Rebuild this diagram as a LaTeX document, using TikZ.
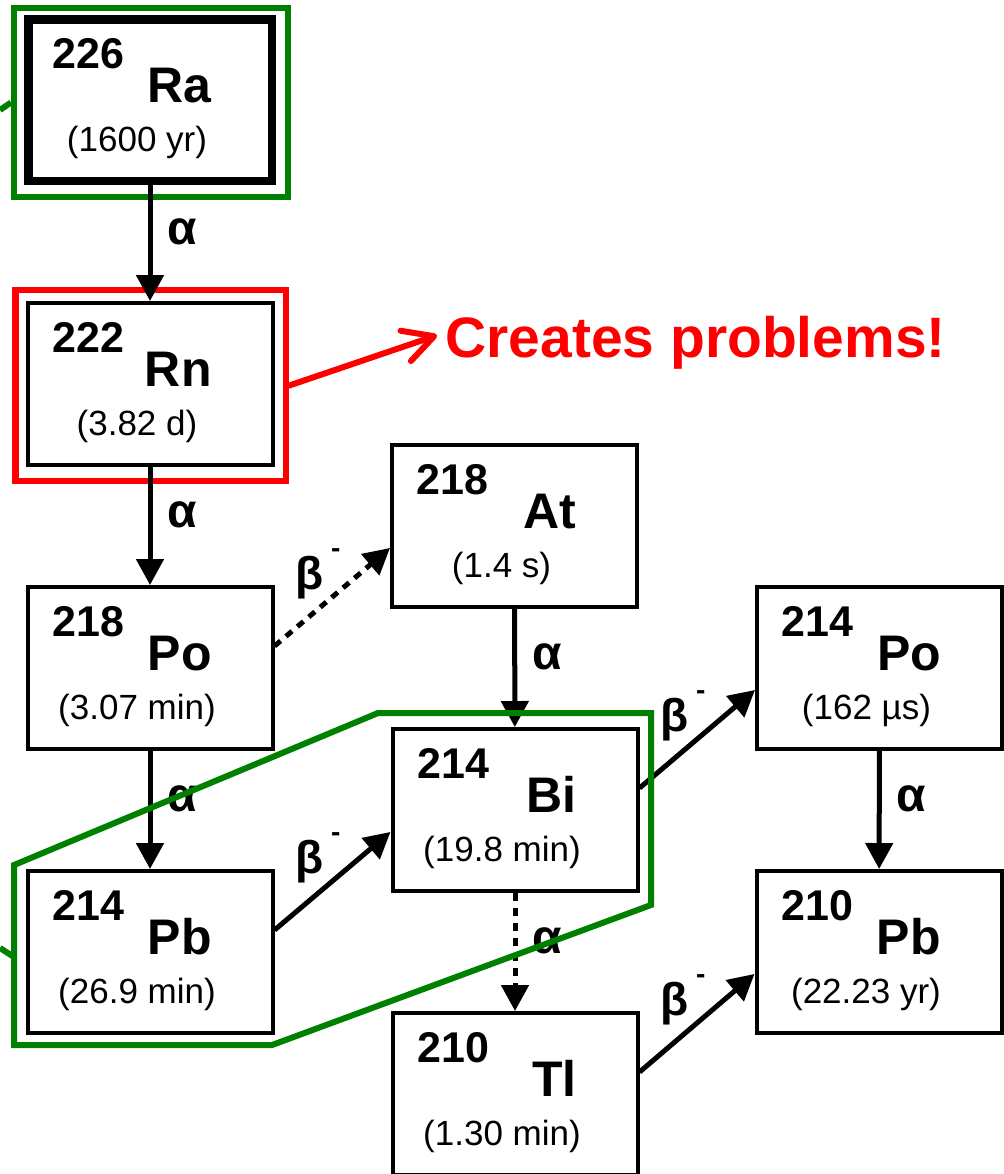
\documentclass[tikz,border=0pt]{standalone}
\usepackage{fontspec}
\setmainfont{Liberation Sans}
\usetikzlibrary{arrows.meta,calc}

\definecolor{framegreen}{RGB}{0,128,0}
\definecolor{framered}{RGB}{255,0,0}
\newcommand{\betam}{β\hspace{4pt}\raisebox{16pt}{\fontsize{14}{14}\selectfont -}}

\begin{document}
\begin{tikzpicture}[x=0.5pt, y=-0.5pt,
  nucbox/.style={draw, line width=2pt, minimum width=122.5pt, minimum height=81pt, inner sep=0pt},
  thickbox/.style={nucbox, line width=4.25pt, minimum width=121.75pt, minimum height=80.75pt},
  massno/.style={font=\fontsize{21.5}{21.5}\selectfont\bfseries, inner sep=0pt, anchor=base west},
  elem/.style={font=\fontsize{25}{25}\selectfont\bfseries, inner sep=0pt, anchor=base east},
  halflife/.style={font=\fontsize{17.5}{17.5}\selectfont, inner sep=0pt, anchor=base},
  decay/.style={line width=2.5pt, -{Triangle[length=13pt,width=13.5pt]}},
  branch/.style={decay, dash pattern=on 4pt off 3.5pt},
  alab/.style={font=\fontsize{24}{24}\selectfont\bfseries, inner sep=0pt, xshift=16pt, yshift=5.5pt},
  blab/.style={font=\fontsize{23}{23}\selectfont\bfseries, inner sep=0pt, anchor=base west, xshift=9pt, yshift=28.5pt},
  hilite/.style={draw, line width=3pt, inner sep=0pt}
]
  \useasboundingbox (0,0) rectangle (1003,1174);

  % Highlight frames
  \node[hilite, draw=framegreen, minimum width=137pt, minimum height=94.5pt] (raframe) at (151,102.5) {};
  \node[hilite, draw=framered, line width=3.25pt, minimum width=135.25pt, minimum height=95.5pt] (rnframe) at (150.75,385.5) {};

  % Nuclide boxes
  \foreach \nm/\bx/\px/\py/\A/\el/\hl in {
      ra/thickbox/150/100/226/Ra/1600 yr,
      rn/nucbox/150/384/222/Rn/3.82 d,
      po218/nucbox/150/668/218/Po/3.07 min,
      pb214/nucbox/150/952/214/Pb/26.9 min,
      at218/nucbox/514.5/526/218/At/1.4 s,
      bi214/nucbox/515/810/214/Bi/19.8 min,
      tl210/nucbox/515/1094/210/Tl/1.30 min,
      po214/nucbox/879.5/668/214/Po/162 µs,
      pb210/nucbox/879/952/210/Pb/22.23 yr} {
    \node[\bx] (\nm) at (\px,\py) {};
    \node[massno] (\nm-A) at ($(\nm.center)+(-98,-32)$) {\A};
    \node[elem] (\nm-el) at ($(\nm.center)+(62,2)$) {\el};
    \node[halflife] (\nm-hl) at ($(\nm.center)+(-13,51)$) {(\hl)};
  }

  % Alpha decays
  \draw[decay] (ra) -- (rn) node[midway, alab] (a1) {α};
  \draw[decay] (rn) -- (po218) node[midway, alab] (a2) {α};
  \draw[decay] (po218) -- (pb214) node[midway, alab] (a3) {α};
  \draw[decay] (at218) -- (bi214) node[midway, alab] (a4) {α};
  \draw[branch] (bi214) -- (tl210) node[midway, alab] (a5) {α};
  \draw[decay] (po214) -- (pb210) node[midway, alab] (a6) {α};

  % Beta decays
  \draw[branch] (po218.10) -- (at218.190) node[pos=0, blab] (b1) {\betam};
  \draw[decay] (pb214.10) -- (bi214.190) node[pos=0, blab] (b2) {\betam};
  \draw[decay] (bi214.10) -- (po214.190) node[pos=0, blab] (b3) {\betam};
  \draw[decay] (tl210.10) -- (pb210.190) node[pos=0, blab] (b4) {\betam};

  % Warning
  \node[font=\fontsize{28.5}{28.5}\selectfont\bfseries, text=framered, anchor=base west, inner sep=0pt] (warn) at (445,357) {Creates problems!};
  \draw[framered, line width=3pt, line cap=round, -{Straight Barb[round, length=15pt, width=16pt]}]
    (rnframe.east) -- ([xshift=-4pt, yshift=3.5pt]warn.west);

  % Green outline round Pb and Bi
  \coordinate (gl1) at (0,110);
  \coordinate (gl2) at (0,948);
  \coordinate (gp) at (14,957);
  \draw[framegreen, line width=3pt] (gl1) -- (raframe.west);
  \draw[framegreen, line width=3pt] (gl2) -- (gp);
  \draw[framegreen, line width=3pt] (14,1045) -- (14,865) -- (378,713) -- (651,713)
    -- (651,905) -- (272,1045) -- cycle;
\end{tikzpicture}
\end{document}
